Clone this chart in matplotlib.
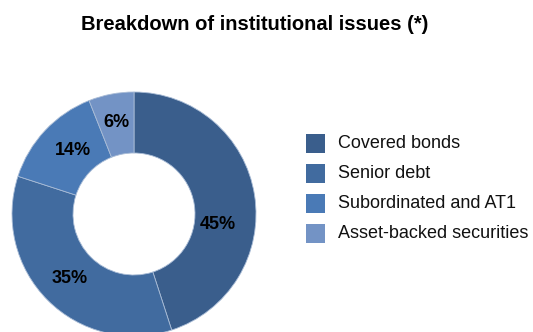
import matplotlib
matplotlib.use("Agg")
import numpy as np
import matplotlib.pyplot as plt
from matplotlib.patches import Rectangle

categories = ["Covered bonds", "Senior debt", "Subordinated and AT1", "Asset-backed securities"]
shares = [45, 35, 14, 6]
colors = ["#3A5E8C", "#416B9F", "#4A7AB6", "#7393C5"]
title = "Breakdown of institutional issues (*)"

W, H = 533, 332
fig = plt.figure(figsize=(W / 100, H / 100), dpi=100)

# donut axes: centre (134, 214) px, outer radius 122 px
cx, cy, r = 134, 214, 122
ax = fig.add_axes([(cx - r) / W, (H - cy - r) / H, 2 * r / W, 2 * r / H])
wedges, texts, autotexts = ax.pie(
    shares,
    colors=colors,
    startangle=90,
    counterclock=False,
    radius=1.0,
    autopct=lambda p: f"{p:.0f}%",
    pctdistance=0.74,
    wedgeprops=dict(width=0.5, edgecolor="#A9BCD6", linewidth=0.6),
    textprops=dict(family="Liberation Sans", fontsize=13, fontweight="bold", color="black"),
)
# label placement (polar: angle in degrees, radius as fraction of outer radius)
label_polar = [(-7, 0.69), (-135, 0.75), (134, 0.725), (101, 0.76)]
for t, (ang, rad) in zip(autotexts, label_polar):
    a = np.deg2rad(ang)
    t.set_position((rad * np.cos(a), rad * np.sin(a)))

ax.set_xlim(-1, 1)
ax.set_ylim(-1, 1)
ax.set_aspect("equal")
ax.axis("off")
for w in wedges:
    w.set_clip_on(False)

fig.text(255 / W, 1 - 25 / H, title, ha="center", va="center",
         family="Liberation Sans", fontsize=14.5, fontweight="bold")

# legend: square swatches with labels
for i, (lab, col) in enumerate(zip(categories, colors)):
    yc = 143.5 + 30 * i
    fig.patches.append(Rectangle((306 / W, 1 - (yc + 9.5) / H), 19 / W, 19 / H,
                                 transform=fig.transFigure, facecolor=col, edgecolor="none"))
    fig.text(338 / W, 1 - yc / H, lab, ha="left", va="center",
             family="Liberation Sans", fontsize=13, color="#111111")

fig.savefig("out.png", dpi=100)
